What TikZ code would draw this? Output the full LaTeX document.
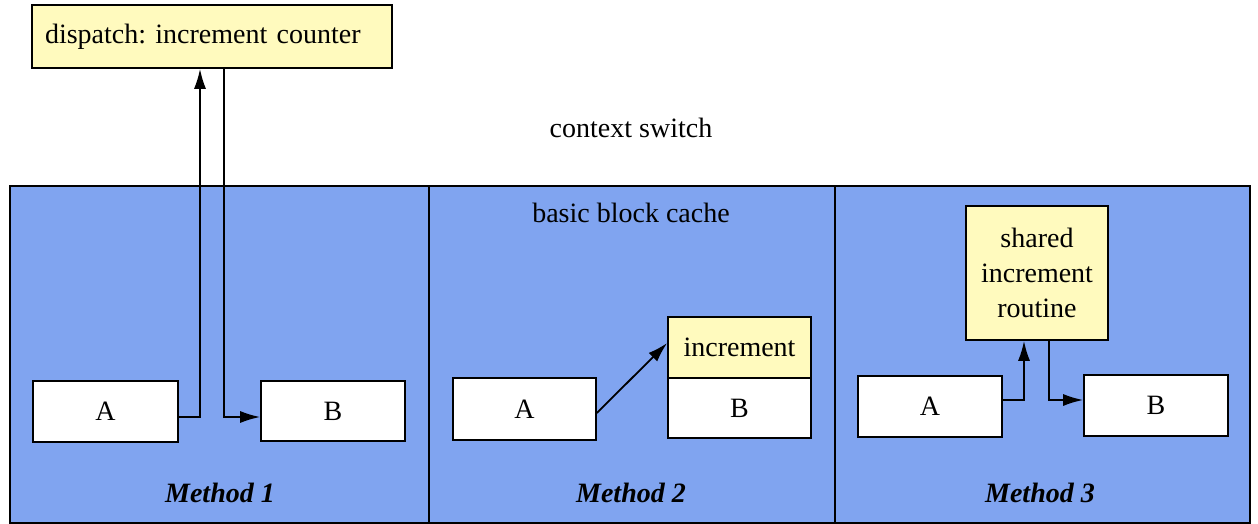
\documentclass[tikz,border=0pt]{standalone}
\usepackage{fontspec}
\setmainfont{Liberation Serif}
\usetikzlibrary{arrows.meta}
\frenchspacing
\definecolor{panelblue}{RGB}{128,164,240}
\definecolor{noteyellow}{RGB}{255,250,190}
\tikzset{
  box/.style={draw=black, line width=1.6pt, fill=white, inner sep=0pt, font=\fontsize{28}{32}\selectfont},
  note/.style={box, fill=noteyellow},
  panel/.style={draw=black, line width=1.4pt, fill=panelblue},
  arr/.style={line width=1.8pt, -{Latex[length=20pt,width=12pt]}},
  label/.style={font=\fontsize{28}{32}\selectfont, inner sep=0pt},
  methodlabel/.style={font=\fontsize{28}{32}\selectfont\bfseries\itshape, inner sep=0pt}
}
\begin{document}
\begin{tikzpicture}[x=1pt, y=-1pt]
\useasboundingbox (0,0) rectangle (1258,524);

% three panels
\draw[panel] (10,186) rectangle (429,523);
\draw[panel] (429,186) rectangle (835,523);
\draw[panel] (835,186) rectangle (1250,523);

% dispatch routine outside the cache
\node[note, minimum width=360pt, minimum height=63pt, text width=334pt, align=left] (disp) at (212,36.5) {dispatch: increment counter};
\node[label] (ctx) at (631,128) {context switch};

% Method 1
\node[box, minimum width=145pt, minimum height=61pt] (A1) at (105.5,411.5) {A};
\node[box, minimum width=144pt, minimum height=60pt] (B1) at (333,411) {B};
\node[methodlabel] (m1) at (220,493) {Method 1};
\draw[arr] ([yshift=-5.5pt]A1.east) -| ([xshift=-12pt]disp.south);
\draw[arr] ([xshift=12pt]disp.south) |- ([yshift=-6pt]B1.west);

% Method 2
\node[label] (bbc) at (631,213) {basic block cache};
\node[box, minimum width=143pt, minimum height=62pt] (A2) at (524.5,409) {A};
\node[note, minimum width=143pt, minimum height=61pt] (inc) at (739.5,347.5) {increment};
\node[box, minimum width=143pt, minimum height=60pt] (B2) at (739.5,408) {B};
\node[methodlabel] (m2) at (631,493) {Method 2};
\draw[arr] ([yshift=-4pt]A2.east) -- ([yshift=4.5pt]inc.west);

% Method 3
\node[note, minimum width=142pt, minimum height=134pt, align=center] (sh) at (1037,273) {shared\\[3pt]increment\\[3pt]routine};
\node[box, minimum width=144pt, minimum height=61pt] (A3) at (930,406.5) {A};
\node[box, minimum width=144pt, minimum height=61pt] (B3) at (1156,405.5) {B};
\node[methodlabel] (m3) at (1040,493) {Method 3};
\draw[arr] ([yshift=6.5pt]A3.east) -| ([xshift=-13pt]sh.south);
\draw[arr] ([xshift=12pt]sh.south) |- ([yshift=5.5pt]B3.west);
\end{tikzpicture}
\end{document}
